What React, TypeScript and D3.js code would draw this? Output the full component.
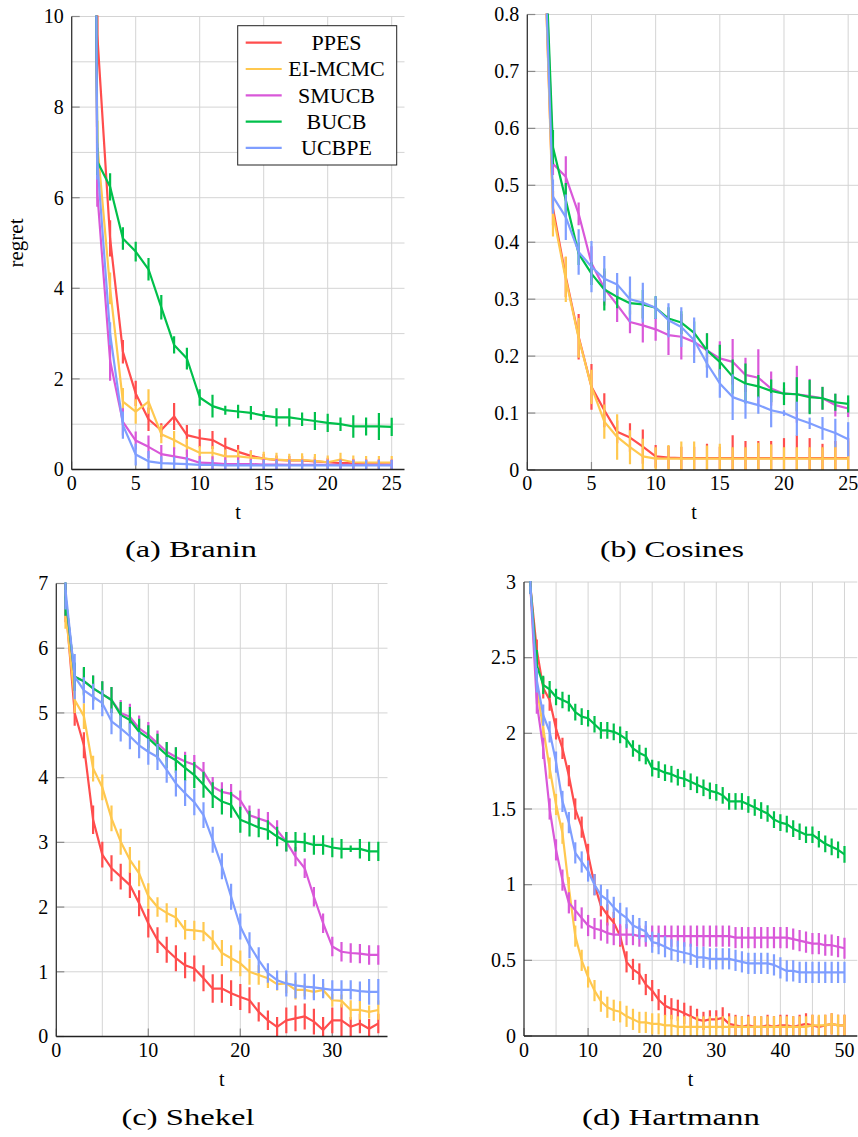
import React from 'react';
import * as d3 from 'd3';

const methods = ['PPES', 'EI-MCMC', 'SMUCB', 'BUCB', 'UCBPE'];
const methodColors = ['#ff4d4d', '#ffc84f', '#d958d9', '#00c04b', '#7f9eff'];

// (a) Branin, t = 1..25
const braninPPES = [50, 9.6, 5.1, 2.6, 1.68, 1.11, 0.87, 1.17, 0.76, 0.69, 0.65, 0.5, 0.39, 0.3, 0.24, 0.21, 0.2, 0.2, 0.18, 0.16, 0.14, 0.14, 0.12, 0.12, 0.11];
const braninPPESErr = [3, 0.5, 0.4, 0.26, 0.28, 0.26, 0.15, 0.3, 0.22, 0.2, 0.2, 0.2, 0.15, 0.12, 0.1, 0.1, 0.1, 0.1, 0.1, 0.1, 0.1, 0.1, 0.1, 0.1, 0.1];
const braninEI = [50, 7.2, 4.0, 1.5, 1.28, 1.5, 0.78, 0.65, 0.5, 0.37, 0.37, 0.29, 0.29, 0.26, 0.24, 0.22, 0.2, 0.21, 0.19, 0.16, 0.22, 0.16, 0.15, 0.15, 0.15];
const braninEIErr = [3, 0.5, 0.35, 0.3, 0.27, 0.27, 0.2, 0.2, 0.18, 0.15, 0.15, 0.15, 0.15, 0.15, 0.15, 0.15, 0.15, 0.15, 0.15, 0.15, 0.15, 0.15, 0.15, 0.15, 0.15];
const braninSMUCB = [50, 6.1, 2.4, 1.05, 0.64, 0.5, 0.34, 0.29, 0.24, 0.15, 0.14, 0.12, 0.12, 0.12, 0.11, 0.11, 0.1, 0.1, 0.1, 0.1, 0.1, 0.1, 0.1, 0.1, 0.1];
const braninSMUCBErr = [3, 0.3, 0.44, 0.3, 0.2, 0.25, 0.2, 0.2, 0.2, 0.15, 0.15, 0.15, 0.15, 0.12, 0.12, 0.12, 0.12, 0.12, 0.12, 0.12, 0.12, 0.12, 0.12, 0.12, 0.12];
const braninBUCB = [50, 6.8, 6.24, 5.1, 4.81, 4.42, 3.58, 2.75, 2.45, 1.59, 1.4, 1.31, 1.28, 1.25, 1.19, 1.15, 1.15, 1.11, 1.07, 1.03, 1.0, 0.95, 0.95, 0.95, 0.94];
const braninBUCBErr = [3, 0.3, 0.3, 0.25, 0.22, 0.25, 0.27, 0.19, 0.24, 0.18, 0.25, 0.1, 0.15, 0.15, 0.1, 0.2, 0.2, 0.15, 0.2, 0.2, 0.15, 0.25, 0.2, 0.3, 0.2];
const braninUCBPE = [50, 6.8, 3.0, 0.98, 0.33, 0.18, 0.14, 0.13, 0.12, 0.1, 0.1, 0.09, 0.09, 0.09, 0.09, 0.09, 0.09, 0.09, 0.09, 0.09, 0.09, 0.09, 0.09, 0.09, 0.09];
const braninUCBPEErr = [3, 0.4, 0.25, 0.3, 0.24, 0.23, 0.15, 0.15, 0.15, 0.12, 0.12, 0.12, 0.12, 0.12, 0.12, 0.12, 0.12, 0.12, 0.12, 0.12, 0.12, 0.12, 0.12, 0.12, 0.12];

// (b) Cosines, t = 1..25
const cosPPES = [1.15, 0.46, 0.339, 0.234, 0.146, 0.105, 0.067, 0.057, 0.041, 0.024, 0.022, 0.021, 0.021, 0.021, 0.021, 0.021, 0.021, 0.021, 0.021, 0.021, 0.021, 0.021, 0.021, 0.021, 0.021];
const cosPPESErr = [0.05, 0.03, 0.035, 0.04, 0.04, 0.03, 0.02, 0.025, 0.03, 0.02, 0.02, 0.02, 0.02, 0.025, 0.02, 0.04, 0.03, 0.03, 0.03, 0.035, 0.04, 0.035, 0.025, 0.03, 0.035];
const cosEI = [1.15, 0.45, 0.335, 0.232, 0.146, 0.085, 0.058, 0.04, 0.024, 0.02, 0.02, 0.02, 0.02, 0.02, 0.02, 0.02, 0.02, 0.02, 0.02, 0.02, 0.02, 0.02, 0.02, 0.02, 0.02];
const cosEIErr = [0.05, 0.04, 0.04, 0.035, 0.03, 0.03, 0.04, 0.03, 0.031, 0.02, 0.024, 0.03, 0.03, 0.023, 0.026, 0.02, 0.02, 0.028, 0.025, 0.02, 0.02, 0.02, 0.02, 0.026, 0.03];
const cosSMUCB = [1.15, 0.538, 0.515, 0.45, 0.363, 0.319, 0.29, 0.26, 0.254, 0.247, 0.237, 0.234, 0.225, 0.21, 0.196, 0.19, 0.167, 0.162, 0.143, 0.134, 0.133, 0.13, 0.126, 0.114, 0.108];
const cosSMUCBErr = [0.05, 0.02, 0.036, 0.02, 0.03, 0.03, 0.03, 0.02, 0.03, 0.02, 0.035, 0.04, 0.02, 0.03, 0.03, 0.04, 0.03, 0.05, 0.03, 0.01, 0.05, 0.03, 0.02, 0.02, 0.015];
const cosBUCB = [1.15, 0.567, 0.474, 0.38, 0.345, 0.317, 0.304, 0.293, 0.291, 0.285, 0.266, 0.259, 0.241, 0.21, 0.19, 0.164, 0.152, 0.147, 0.139, 0.134, 0.133, 0.128, 0.126, 0.119, 0.116];
const cosBUCBErr = [0.05, 0.03, 0.03, 0.02, 0.02, 0.037, 0.02, 0.02, 0.025, 0.02, 0.02, 0.02, 0.02, 0.03, 0.03, 0.03, 0.035, 0.02, 0.02, 0.02, 0.03, 0.03, 0.02, 0.015, 0.015];
const cosUCBPE = [1.15, 0.48, 0.444, 0.383, 0.357, 0.336, 0.326, 0.3, 0.294, 0.285, 0.263, 0.251, 0.228, 0.187, 0.152, 0.128, 0.12, 0.114, 0.105, 0.1, 0.09, 0.082, 0.073, 0.065, 0.054];
const cosUCBPEErr = [0.05, 0.03, 0.04, 0.04, 0.045, 0.04, 0.02, 0.04, 0.035, 0.02, 0.03, 0.035, 0.04, 0.025, 0.025, 0.04, 0.03, 0.015, 0.03, 0.005, 0.03, 0.01, 0.02, 0.025, 0.03];

// (c) Shekel, t = 1..35
const shekelPPES = [6.7, 5.0, 4.5, 3.35, 2.81, 2.6, 2.47, 2.34, 2.06, 1.75, 1.49, 1.34, 1.21, 1.1, 1.05, 0.9, 0.74, 0.74, 0.67, 0.61, 0.56, 0.38, 0.25, 0.15, 0.25, 0.28, 0.31, 0.23, 0.1, 0.25, 0.25, 0.15, 0.2, 0.12, 0.2];
const shekelPPESErr = [0.3, 0.2, 0.2, 0.22, 0.2, 0.2, 0.2, 0.2, 0.2, 0.22, 0.2, 0.2, 0.2, 0.2, 0.2, 0.2, 0.22, 0.22, 0.2, 0.2, 0.2, 0.15, 0.15, 0.15, 0.2, 0.2, 0.2, 0.2, 0.2, 0.2, 0.25, 0.15, 0.15, 0.15, 0.15];
const shekelEI = [6.6, 5.2, 4.95, 4.14, 3.85, 3.37, 3.01, 2.73, 2.52, 2.17, 2.0, 1.91, 1.84, 1.65, 1.64, 1.62, 1.49, 1.29, 1.21, 1.13, 1.0, 0.95, 0.9, 0.81, 0.82, 0.72, 0.72, 0.69, 0.72, 0.56, 0.55, 0.41, 0.41, 0.38, 0.41];
const shekelEIErr = [0.3, 0.2, 0.2, 0.2, 0.2, 0.2, 0.2, 0.2, 0.2, 0.2, 0.15, 0.15, 0.15, 0.15, 0.15, 0.15, 0.15, 0.2, 0.2, 0.2, 0.2, 0.15, 0.15, 0.1, 0.15, 0.15, 0.1, 0.1, 0.1, 0.1, 0.1, 0.15, 0.15, 0.1, 0.15];
const shekelSMUCB = [6.8, 5.56, 5.49, 5.38, 5.29, 5.2, 5.0, 4.94, 4.76, 4.66, 4.53, 4.4, 4.32, 4.25, 4.2, 4.09, 3.86, 3.78, 3.75, 3.65, 3.42, 3.37, 3.32, 3.19, 3.01, 2.78, 2.6, 2.16, 1.75, 1.39, 1.31, 1.29, 1.28, 1.26, 1.26];
const shekelSMUCBErr = [0.3, 0.2, 0.2, 0.2, 0.2, 0.2, 0.2, 0.2, 0.2, 0.2, 0.2, 0.15, 0.15, 0.15, 0.15, 0.15, 0.15, 0.15, 0.15, 0.15, 0.15, 0.15, 0.15, 0.15, 0.15, 0.15, 0.15, 0.15, 0.15, 0.15, 0.15, 0.15, 0.15, 0.15, 0.15];
const shekelBUCB = [6.8, 5.56, 5.49, 5.38, 5.29, 5.2, 4.97, 4.89, 4.71, 4.61, 4.48, 4.35, 4.27, 4.15, 4.04, 3.89, 3.73, 3.63, 3.58, 3.35, 3.29, 3.23, 3.19, 3.09, 3.01, 3.01, 3.0, 2.96, 2.96, 2.92, 2.9, 2.9, 2.9, 2.86, 2.86];
const shekelBUCBErr = [0.3, 0.22, 0.22, 0.2, 0.2, 0.2, 0.2, 0.2, 0.2, 0.2, 0.2, 0.2, 0.2, 0.2, 0.2, 0.2, 0.2, 0.2, 0.2, 0.2, 0.2, 0.15, 0.15, 0.15, 0.15, 0.15, 0.15, 0.15, 0.15, 0.15, 0.15, 0.05, 0.15, 0.15, 0.15];
const shekelUCBPE = [6.9, 5.56, 5.35, 5.25, 5.15, 4.87, 4.76, 4.64, 4.5, 4.4, 4.32, 4.12, 3.91, 3.76, 3.62, 3.42, 3.04, 2.63, 2.16, 1.7, 1.41, 1.18, 0.98, 0.87, 0.82, 0.79, 0.77, 0.76, 0.74, 0.72, 0.72, 0.72, 0.7, 0.69, 0.69];
const shekelUCBPEErr = [0.3, 0.35, 0.2, 0.2, 0.2, 0.2, 0.2, 0.2, 0.2, 0.2, 0.2, 0.2, 0.2, 0.2, 0.2, 0.2, 0.2, 0.2, 0.2, 0.2, 0.2, 0.2, 0.15, 0.15, 0.2, 0.2, 0.2, 0.2, 0.15, 0.15, 0.15, 0.15, 0.15, 0.2, 0.2];

// (d) Hartmann, t = 1..50
const hartPPES = [2.97, 2.55, 2.3, 2.22, 2.03, 1.9, 1.72, 1.5, 1.38, 1.2, 1.0, 0.86, 0.8, 0.75, 0.66, 0.49, 0.44, 0.41, 0.34, 0.3, 0.24, 0.2, 0.18, 0.17, 0.15, 0.13, 0.11, 0.1, 0.11, 0.11, 0.12, 0.08, 0.07, 0.06, 0.07, 0.06, 0.06, 0.07, 0.06, 0.07, 0.07, 0.06, 0.07, 0.08, 0.07, 0.06, 0.07, 0.08, 0.07, 0.07];
const hartPPESErr = [0.05, 0.07, 0.07, 0.07, 0.07, 0.07, 0.07, 0.07, 0.07, 0.07, 0.07, 0.07, 0.07, 0.07, 0.07, 0.07, 0.07, 0.07, 0.07, 0.07, 0.07, 0.07, 0.07, 0.07, 0.07, 0.07, 0.07, 0.06, 0.06, 0.06, 0.07, 0.07, 0.07, 0.07, 0.07, 0.07, 0.07, 0.07, 0.07, 0.07, 0.07, 0.07, 0.07, 0.07, 0.07, 0.07, 0.07, 0.07, 0.07, 0.07];
const hartEI = [2.97, 2.3, 2.03, 1.77, 1.53, 1.34, 0.98, 0.66, 0.5, 0.39, 0.3, 0.23, 0.19, 0.17, 0.16, 0.13, 0.11, 0.09, 0.09, 0.08, 0.08, 0.07, 0.07, 0.06, 0.06, 0.06, 0.06, 0.06, 0.06, 0.06, 0.06, 0.06, 0.06, 0.06, 0.06, 0.06, 0.06, 0.06, 0.06, 0.06, 0.06, 0.06, 0.06, 0.06, 0.07, 0.07, 0.07, 0.08, 0.07, 0.07];
const hartEIErr = [0.05, 0.07, 0.07, 0.07, 0.07, 0.07, 0.07, 0.07, 0.07, 0.07, 0.07, 0.07, 0.07, 0.07, 0.07, 0.07, 0.07, 0.07, 0.07, 0.07, 0.07, 0.07, 0.07, 0.07, 0.07, 0.07, 0.07, 0.07, 0.07, 0.07, 0.07, 0.07, 0.07, 0.07, 0.07, 0.07, 0.07, 0.07, 0.07, 0.07, 0.07, 0.07, 0.07, 0.07, 0.07, 0.07, 0.07, 0.07, 0.07, 0.07];
const hartSMUCB = [2.97, 2.2, 1.9, 1.5, 1.23, 1.03, 0.88, 0.83, 0.78, 0.73, 0.71, 0.7, 0.68, 0.67, 0.67, 0.67, 0.67, 0.66, 0.66, 0.66, 0.66, 0.66, 0.66, 0.66, 0.66, 0.66, 0.66, 0.66, 0.66, 0.66, 0.66, 0.66, 0.65, 0.65, 0.65, 0.65, 0.65, 0.65, 0.65, 0.65, 0.65, 0.64, 0.63, 0.62, 0.61, 0.61, 0.6, 0.6, 0.59, 0.58];
const hartSMUCBErr = [0.05, 0.07, 0.07, 0.07, 0.07, 0.07, 0.07, 0.07, 0.07, 0.07, 0.07, 0.07, 0.07, 0.07, 0.07, 0.07, 0.07, 0.07, 0.07, 0.07, 0.07, 0.07, 0.07, 0.07, 0.07, 0.07, 0.07, 0.07, 0.07, 0.07, 0.07, 0.07, 0.07, 0.07, 0.07, 0.07, 0.07, 0.07, 0.07, 0.07, 0.07, 0.07, 0.07, 0.07, 0.07, 0.07, 0.07, 0.07, 0.07, 0.07];
const hartBUCB = [2.97, 2.45, 2.32, 2.29, 2.24, 2.22, 2.2, 2.14, 2.11, 2.1, 2.06, 2.02, 2.02, 2.01, 1.99, 1.96, 1.9, 1.87, 1.85, 1.77, 1.76, 1.74, 1.73, 1.71, 1.7, 1.68, 1.66, 1.64, 1.62, 1.61, 1.59, 1.55, 1.55, 1.55, 1.53, 1.51, 1.49, 1.47, 1.43, 1.41, 1.4, 1.37, 1.35, 1.33, 1.33, 1.3, 1.27, 1.25, 1.23, 1.2];
const hartBUCBErr = [0.05, 0.1, 0.06, 0.055, 0.055, 0.055, 0.055, 0.055, 0.055, 0.055, 0.055, 0.055, 0.055, 0.055, 0.055, 0.055, 0.055, 0.055, 0.055, 0.055, 0.055, 0.055, 0.055, 0.055, 0.055, 0.055, 0.055, 0.055, 0.055, 0.055, 0.055, 0.055, 0.055, 0.055, 0.055, 0.055, 0.055, 0.055, 0.055, 0.055, 0.055, 0.055, 0.055, 0.055, 0.055, 0.055, 0.055, 0.055, 0.055, 0.055];
const hartUCBPE = [2.97, 2.35, 2.12, 2.01, 1.81, 1.55, 1.41, 1.21, 1.15, 1.09, 1.0, 0.93, 0.9, 0.85, 0.81, 0.78, 0.73, 0.71, 0.69, 0.62, 0.61, 0.59, 0.57, 0.56, 0.55, 0.54, 0.52, 0.52, 0.51, 0.51, 0.51, 0.51, 0.5, 0.49, 0.48, 0.48, 0.48, 0.48, 0.47, 0.45, 0.43, 0.43, 0.42, 0.42, 0.42, 0.42, 0.42, 0.42, 0.42, 0.42];
const hartUCBPEErr = [0.05, 0.08, 0.07, 0.07, 0.07, 0.07, 0.07, 0.07, 0.07, 0.07, 0.07, 0.07, 0.07, 0.07, 0.07, 0.07, 0.07, 0.07, 0.07, 0.07, 0.07, 0.07, 0.07, 0.07, 0.07, 0.07, 0.07, 0.07, 0.07, 0.07, 0.07, 0.07, 0.07, 0.07, 0.07, 0.07, 0.07, 0.07, 0.07, 0.07, 0.07, 0.07, 0.07, 0.07, 0.07, 0.07, 0.07, 0.07, 0.07, 0.07];

// tick values
const braninYTicks = [0, 2, 4, 6, 8, 10];
const braninYGrid = [1, 2, 3, 4, 5, 6, 7, 8, 9, 10];
const cosYTicks = [0, 0.1, 0.2, 0.3, 0.4, 0.5, 0.6, 0.7, 0.8];
const shekelYTicks = [0, 1, 2, 3, 4, 5, 6, 7];
const hartYTicks = [0, 0.5, 1, 1.5, 2, 2.5, 3];
const xTicks25 = [0, 5, 10, 15, 20, 25];
const xGrid25 = [5, 10, 15, 20, 25];
const xTicks35 = [0, 10, 20, 30];
const xGrid35 = [5, 10, 15, 20, 25, 30, 35];
const xTicks50 = [0, 10, 20, 30, 40, 50];
const xGrid50 = [5, 10, 15, 20, 25, 30, 35, 40, 45, 50];

const FONT = 'Liberation Serif, DejaVu Serif, serif';

const panels = [
  {
    caption: '(a) Branin', capX: 191, capY: 557, capW: 132,
    left: 71.7, right: 404.5, top: 16.5, bottom: 469.5, xMax: 26, yMax: 10,
    yTicks: braninYTicks, yGrid: braninYGrid, xTicks: xTicks25, xGrid: xGrid25,
    tickY: 490, tY: 519, yLabel: 'regret', legend: true,
    values: [braninPPES, braninEI, braninSMUCB, braninBUCB, braninUCBPE],
    errs: [braninPPESErr, braninEIErr, braninSMUCBErr, braninBUCBErr, braninUCBPEErr],
  },
  {
    caption: '(b) Cosines', capX: 672, capY: 557, capW: 144,
    left: 527.3, right: 861, top: 14.5, bottom: 470, xMax: 26, yMax: 0.8,
    yTicks: cosYTicks, yGrid: cosYTicks.slice(1), xTicks: xTicks25, xGrid: xGrid25,
    tickY: 490, tY: 519, yLabel: null, legend: false,
    values: [cosPPES, cosEI, cosSMUCB, cosBUCB, cosUCBPE],
    errs: [cosPPESErr, cosEIErr, cosSMUCBErr, cosBUCBErr, cosUCBPEErr],
  },
  {
    caption: '(c) Shekel', capX: 188, capY: 1125, capW: 133,
    left: 56.3, right: 387.5, top: 583.5, bottom: 1036.5, xMax: 36, yMax: 7,
    yTicks: shekelYTicks, yGrid: shekelYTicks.slice(1), xTicks: xTicks35, xGrid: xGrid35,
    tickY: 1057, tY: 1086, yLabel: null, legend: false,
    values: [shekelPPES, shekelEI, shekelSMUCB, shekelBUCB, shekelUCBPE],
    errs: [shekelPPESErr, shekelEIErr, shekelSMUCBErr, shekelBUCBErr, shekelUCBPEErr],
  },
  {
    caption: '(d) Hartmann', capX: 671, capY: 1125, capW: 178,
    left: 524, right: 857.3, top: 582, bottom: 1036, xMax: 52, yMax: 3,
    yTicks: hartYTicks, yGrid: hartYTicks.slice(1), xTicks: xTicks50, xGrid: xGrid50,
    tickY: 1057, tY: 1086, yLabel: null, legend: false,
    values: [hartPPES, hartEI, hartSMUCB, hartBUCB, hartUCBPE],
    errs: [hartPPESErr, hartEIErr, hartSMUCBErr, hartBUCBErr, hartUCBPEErr],
  },
];

const fmt = (v: number) => String(+v.toFixed(2));

function Panel({ p, idx }: { p: any; idx: number }) {
  const x = d3.scaleLinear().domain([0, p.xMax]).range([p.left, p.right]);
  const y = d3.scaleLinear().domain([0, p.yMax]).range([p.bottom, p.top]);
  const line = d3.line<number>().x((_, i) => x(i + 1)).y((d) => y(d));
  const clipId = `clip-${idx}`;
  const ts = { fontFamily: FONT };
  return (
    <g>
      <defs>
        <clipPath id={clipId}>
          <rect x={p.left} y={p.top - 1} width={p.right - p.left} height={p.bottom - p.top + 1} />
        </clipPath>
      </defs>
      {p.yGrid.map((v: number) => (
        <line key={'gy' + v} x1={p.left} x2={p.right} y1={y(v)} y2={y(v)} stroke="#d4d4d4" strokeWidth={1} />
      ))}
      {p.xGrid.map((v: number) => (
        <line key={'gx' + v} x1={x(v)} x2={x(v)} y1={p.bottom} y2={p.top} stroke="#d4d4d4" strokeWidth={1} />
      ))}
      {p.yTicks.map((v: number) => (
        <line key={'ty' + v} x1={p.left} x2={p.left + 8} y1={y(v)} y2={y(v)} stroke="#8a8a8a" strokeWidth={1.2} />
      ))}
      {p.xTicks.map((v: number) => (
        <line key={'tx' + v} x1={x(v)} x2={x(v)} y1={p.bottom} y2={p.bottom - 8} stroke="#8a8a8a" strokeWidth={1.2} />
      ))}
      <g clipPath={`url(#${clipId})`}>
        {p.values.map((vals: number[], s: number) => (
          <g key={'s' + s}>
            <path d={line(vals) || ''} fill="none" stroke={methodColors[s]} strokeWidth={2.2} strokeLinejoin="round" />
            {vals.map((v: number, i: number) => (
              <line key={i} x1={x(i + 1)} x2={x(i + 1)} y1={y(v - p.errs[s][i])} y2={y(v + p.errs[s][i])}
                stroke={methodColors[s]} strokeWidth={2.2} />
            ))}
          </g>
        ))}
      </g>
      <line x1={p.left} x2={p.left} y1={p.top} y2={p.bottom} stroke="#333" strokeWidth={1.3} />
      <line x1={p.left} x2={p.right} y1={p.bottom} y2={p.bottom} stroke="#222" strokeWidth={1.3} />
      {p.yTicks.map((v: number) => (
        <text key={'ly' + v} x={p.left - 8} y={y(v)} dy="0.34em" textAnchor="end" style={ts} fontSize={20} fill="#000">
          {fmt(v)}
        </text>
      ))}
      {p.xTicks.map((v: number) => (
        <text key={'lx' + v} x={x(v)} y={p.tickY} textAnchor="middle" style={ts} fontSize={20} fill="#000">
          {fmt(v)}
        </text>
      ))}
      <text x={(p.left + p.right) / 2} y={p.tY} textAnchor="middle" style={ts} fontSize={20} fill="#000">t</text>
      {p.yLabel && (
        <text transform={`translate(23,${(p.top + p.bottom) / 2}) rotate(-90)`} textAnchor="middle" style={ts} fontSize={21} fill="#000">
          {p.yLabel}
        </text>
      )}
      <text x={p.capX} y={p.capY} textAnchor="middle" style={ts} fontSize={24} fill="#000"
        textLength={p.capW} lengthAdjust="spacingAndGlyphs">
        {p.caption}
      </text>
      {p.legend && (
        <g>
          <rect x={237.7} y={25.7} width={159} height={139.3} fill="#fff" stroke="#222" strokeWidth={1} />
          {methods.map((m, i) => (
            <g key={m}>
              <line x1={245.7} x2={281.7} y1={42.7 + 26.3 * i} y2={42.7 + 26.3 * i} stroke={methodColors[i]} strokeWidth={2.2} />
              <text x={336.5} y={42.7 + 26.3 * i} dy="0.34em" textAnchor="middle" style={ts} fontSize={22} fill="#000">{m}</text>
            </g>
          ))}
        </g>
      )}
    </g>
  );
}

export default function App() {
  return (
    <svg width={858} height={1137} style={{ position: 'absolute', left: 0, top: 0, background: '#fff' }}>
      <rect x={0} y={0} width={858} height={1137} fill="#fff" />
      {panels.map((p, i) => (
        <Panel key={i} p={p} idx={i} />
      ))}
    </svg>
  );
}
